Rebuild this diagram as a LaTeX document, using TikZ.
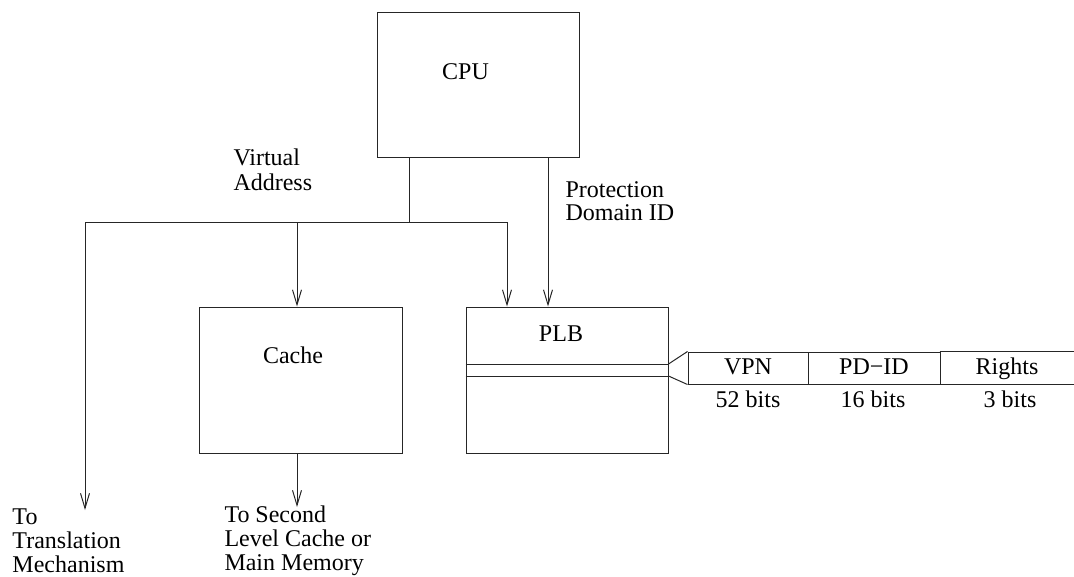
\documentclass[tikz,border=0pt]{standalone}
\usepackage{fontspec}
\setmainfont{Liberation Serif}
\usetikzlibrary{arrows.meta}
\begin{document}
\begin{tikzpicture}[x=1pt,y=-1pt, line width=1pt,
  box/.style={draw=black!85, rectangle, inner sep=0pt},
  field/.style={box, minimum height=32pt, text height=16pt, text depth=4pt, font=\fontsize{24}{24.5}\selectfont},
  lbl/.style={inner sep=0pt, anchor=base, font=\fontsize{24}{24.5}\selectfont},
  lbll/.style={lbl, anchor=base west},
  wire/.style={draw=black!85},
  arr/.style={wire, -{Straight Barb[length=15pt,width=9pt]}}]
\useasboundingbox (0,0) rectangle (1074,576);
% boxes
\node[box, minimum width=202pt, minimum height=145pt] (cpu) at (478,84.5) {};
\node[box, minimum width=203pt, minimum height=146pt] (cache) at (300.5,380) {};
\node[box, minimum width=202pt, minimum height=146pt] (plb) at (567,380) {};
% box texts
\node[lbl] (cputxt) at (465.5,79) {CPU};
\node[lbl] (cachetxt) at (293,363) {Cache};
\node[lbl] (plbtxt) at (561,341) {PLB};
% PLB entry lines
\coordinate (e1) at (0,364);
\coordinate (e2) at (0,376);
\draw[wire] (plb.west |- e1) -- (plb.east |- e1);
\draw[wire] (plb.west |- e2) -- (plb.east |- e2);
% entry format
\node[field, minimum width=120pt] (vpn) at (748,368) {VPN};
\node[field, minimum width=132pt] (pdid) at (874,368) {PD−ID};
\node[field, draw=none, minimum width=134pt] (rights) at (1007,368) {Rights};
\draw[wire] (rights.north west) -- (rights.north east);
\draw[wire] (rights.south west) -- (rights.south east);
\draw[wire] (plb.east |- e1) -- (vpn.north west);
\draw[wire] (plb.east |- e2) -- (vpn.south west);
\node[lbl] (b52) at (748,407) {52 bits};
\node[lbl] (b16) at (873,407) {16 bits};
\node[lbl] (b3) at (1010,407) {3 bits};
% virtual address bus
\coordinate (j) at (409,222);
\coordinate (jl) at (85,222);
\coordinate (jc) at (297,222);
\coordinate (jr) at (507,222);
\coordinate (pd) at (548,0);
\coordinate (ttm) at (85,510);
\coordinate (cout) at (297,507);
\draw[wire] (cpu.south -| j) -- (j);
\draw[wire] (jl) -- (jr);
\draw[arr] (jl) -- (ttm);
\draw[arr] (jc) -- (jc |- cache.north);
\draw[arr] (jr) -- (jr |- plb.north);
\draw[arr] (pd |- cpu.south) -- (pd |- plb.north);
\draw[arr] (cache.south -| jc) -- (cout);
% labels
\node[lbll] (va1) at (233,165) {Virtual};
\node[lbll] (va2) at (233,190) {Address};
\node[lbll] (pd1) at (565,197) {Protection};
\node[lbll] (pd2) at (565,220) {Domain ID};
\node[lbll] (t1) at (12,524) {To};
\node[lbll] (t2) at (12,548) {Translation};
\node[lbll] (t3) at (12,572) {Mechanism};
\node[lbll] (s1) at (224,522) {To Second};
\node[lbll] (s2) at (224,546) {Level Cache or};
\node[lbll] (s3) at (224,570) {Main Memory};
\end{tikzpicture}
\end{document}
